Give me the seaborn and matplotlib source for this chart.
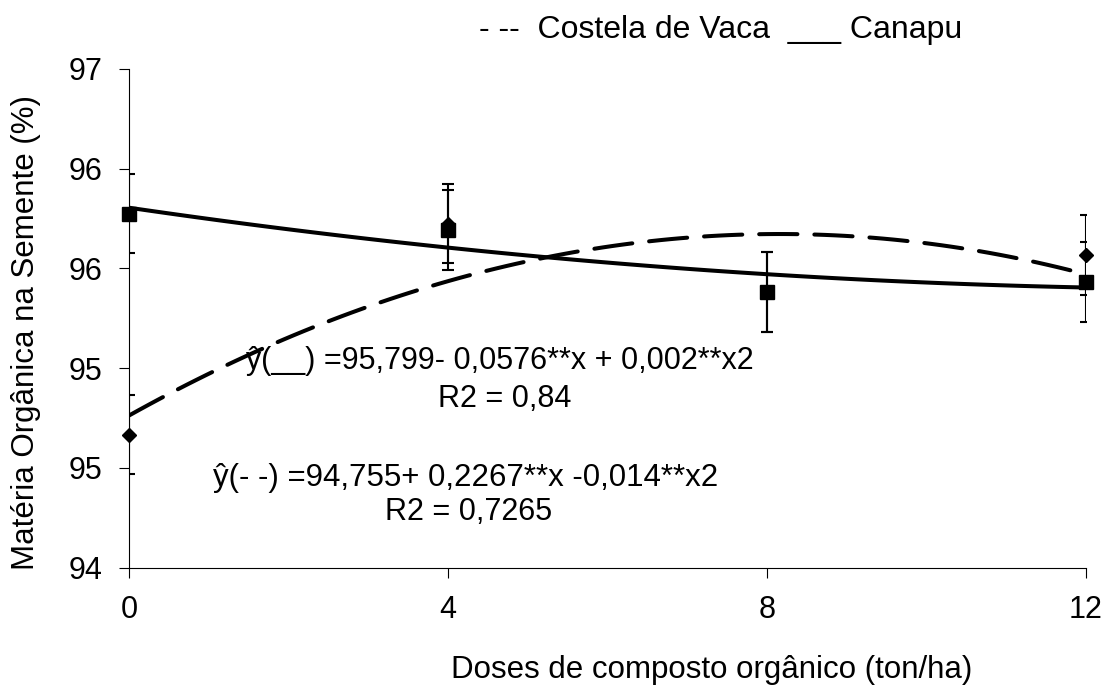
import matplotlib
matplotlib.use("Agg")
import numpy as np
import pandas as pd
import matplotlib.pyplot as plt
import seaborn as sns
from matplotlib.ticker import FormatStrFormatter

# ---- data ----
doses = [0, 4, 8, 12]
canapu = [96.13, 96.03, 95.66, 95.72]
costela = [94.80, 96.07, 95.66, 95.88]
canapu_err = [0.24, 0.24, 0.24, 0.24]
costela_err = [0.24, 0.24, 0.24, 0.24]
x_ticks = [0, 4, 8, 12]
y_ticks = [94.0, 94.6, 95.2, 95.8, 96.4, 97.0]

legend_text = "- --  Costela de Vaca  ___ Canapu"
eq_canapu = "ŷ(__) =95,799- 0,0576**x + 0,002**x2"
r2_canapu = "R2 = 0,84"
eq_costela = "ŷ(- -) =94,755+ 0,2267**x -0,014**x2"
r2_costela = "R2 = 0,7265"
x_label = "Doses de composto orgânico (ton/ha)"
y_label = "Matéria Orgânica na Semente (%)"

sns.set_theme(style="white")
plt.rcParams['font.family'] = ['Liberation Sans', 'DejaVu Sans']

W, H = 1107, 687
fig = plt.figure(figsize=(W / 100, H / 100), dpi=100)
left_px, right_px, top_px, bot_px = 129.3, 1086.0, 69.0, 567.5
ax = fig.add_axes([left_px / W, 1 - bot_px / H, (right_px - left_px) / W, (bot_px - top_px) / H])

df = pd.DataFrame({"dose": doses, "canapu": canapu, "costela": costela})

# quadratic trend lines (Excel-like polynomial trendlines)
sns.regplot(data=df, x="dose", y="costela", order=2, ci=None, scatter=False, ax=ax,
            color="black", line_kws=dict(lw=2.9, dashes=(9.5, 4.2), dash_capstyle="round", zorder=2))
sns.regplot(data=df, x="dose", y="canapu", order=2, ci=None, scatter=False, ax=ax,
            color="black", line_kws=dict(lw=2.9, zorder=2))

# error bars
ax.errorbar(doses, costela, yerr=costela_err, fmt="none", ecolor="black",
            elinewidth=1.5, capsize=4.5, capthick=1.5, zorder=3)
ax.errorbar(doses, canapu, yerr=canapu_err, fmt="none", ecolor="black",
            elinewidth=1.5, capsize=4.5, capthick=1.5, zorder=3)

# markers
ax.plot(doses, costela, linestyle="none", marker="D", markersize=7, color="black",
        clip_on=False, zorder=4)
ax.plot(doses, canapu, linestyle="none", marker="s", markersize=10, color="black",
        clip_on=False, zorder=5)

ax.set_xlim(0, 12)
ax.set_ylim(94, 97)
ax.set_xticks(x_ticks)
ax.set_yticks(y_ticks)
ax.yaxis.set_major_formatter(FormatStrFormatter('%.0f'))

for s in ["top", "right"]:
    ax.spines[s].set_visible(False)
for s in ["left", "bottom"]:
    ax.spines[s].set_color("black")
    ax.spines[s].set_linewidth(0.8)

ax.tick_params(axis="both", which="major", bottom=True, left=True, direction="out",
               length=7.5, width=0.8, color="black", labelsize=22, labelcolor="black", pad=12)

ax.set_xlabel(x_label, fontsize=22.5, color="black")
ax.set_ylabel(y_label, fontsize=22.5, color="black")
ax.xaxis.set_label_coords((712 - left_px) / (right_px - left_px), (bot_px - 655) / (bot_px - top_px))
ax.yaxis.set_label_coords((26 - left_px) / (right_px - left_px), (bot_px - 333) / (bot_px - top_px))
ax.yaxis.label.set_va("center")

# legend-like header text
fig.text(721 / W, 1 - 30 / H, legend_text, ha="center", va="center", fontsize=23, color="black")

# equations
fig.text(500 / W, 1 - 369 / H, eq_canapu, ha="center", va="baseline", fontsize=22, color="black")
fig.text(505 / W, 1 - 407 / H, r2_canapu, ha="center", va="baseline", fontsize=22, color="black")
fig.text(466 / W, 1 - 486 / H, eq_costela, ha="center", va="baseline", fontsize=22.5, color="black")
fig.text(469 / W, 1 - 520 / H, r2_costela, ha="center", va="baseline", fontsize=22, color="black")

fig.savefig("out.png", dpi=100, facecolor="white")
